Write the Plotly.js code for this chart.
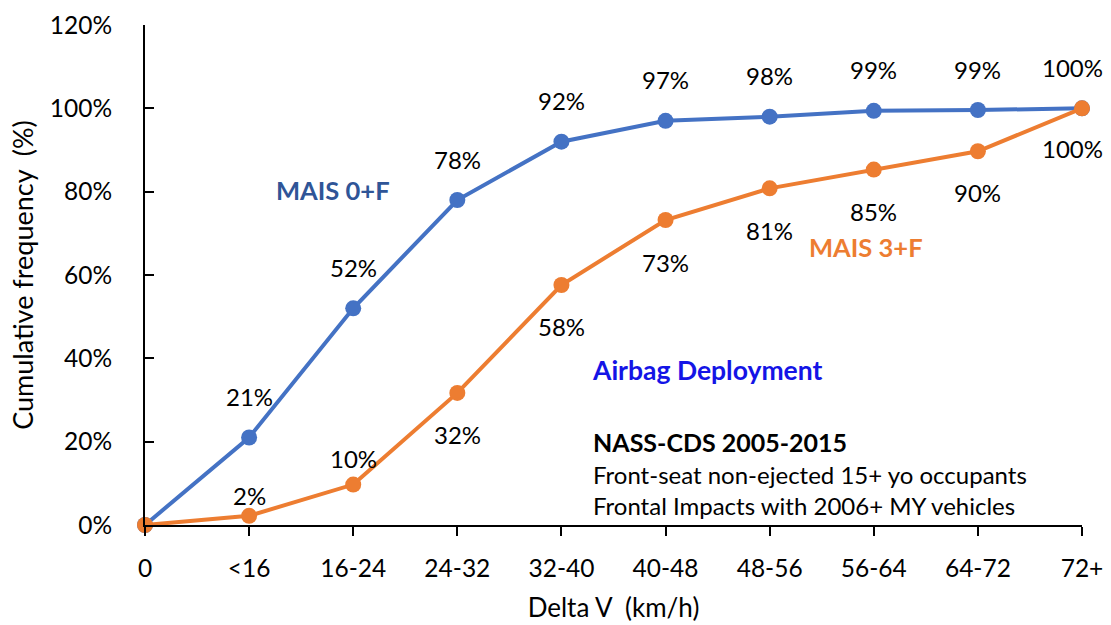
<!DOCTYPE html>
<html><head><meta charset="utf-8">
<script src="https://cdn.plot.ly/plotly-3.0.1.min.js"></script>
<style>body{margin:0;background:#fff}#chart{width:1111px;height:625px}</style>
</head><body><div id="chart"></div>
<script>
const categories = ['0','<16','16-24','24-32','32-40','40-48','48-56','56-64','64-72','72+'];
const mais0F = [0, 21, 52, 78, 92, 97, 98, 99.4, 99.6, 100];
const mais3F = [0, 2.2, 9.7, 31.7, 57.6, 73.2, 80.8, 85.3, 89.7, 100];
const mais0FLabels = ['', '21%', '52%', '78%', '92%', '97%', '98%', '99%', '99%', '100%'];
const mais3FLabels = ['', '2%', '10%', '32%', '58%', '73%', '81%', '85%', '90%', '100%'];
const mais3FLabelShift = [0, 20, 26, -42, -41, -42, -42, -42, -41, -40];

const FONT = 'Lato, "Open Sans", sans-serif';
const BLUE = '#4472C4', ORANGE = '#ED7D31';

const traces = [
  {x: categories, y: mais0F, type: 'scatter', mode: 'lines+markers', name: 'MAIS 0+F',
   line: {color: BLUE, width: 4}, marker: {color: BLUE, size: 16}, cliponaxis: false},
  {x: categories, y: mais3F, type: 'scatter', mode: 'lines+markers', name: 'MAIS 3+F',
   line: {color: ORANGE, width: 4}, marker: {color: ORANGE, size: 16}, cliponaxis: false}
];

const annotations = [];
const last = categories.length - 1;
categories.forEach((c, i) => {
  const xs = (i === last) ? -10 : 0;
  if (mais0FLabels[i]) annotations.push({x: i, y: mais0F[i], xref: 'x', yref: 'y', text: mais0FLabels[i],
    showarrow: false, yshift: 41, xshift: xs, font: {family: FONT, size: 24, color: '#000'}});
  if (mais3FLabels[i]) annotations.push({x: i, y: mais3F[i], xref: 'x', yref: 'y', text: mais3FLabels[i],
    showarrow: false, yshift: mais3FLabelShift[i], xshift: xs, font: {family: FONT, size: 24, color: '#000'}});
});
annotations.push(
  {x: 1.806, y: 80.4, xref: 'x', yref: 'y', text: '<b>MAIS 0+F</b>', showarrow: false,
   font: {family: FONT, size: 25.5, color: '#2F5597'}},
  {x: 6.93, y: 66.7, xref: 'x', yref: 'y', text: '<b>MAIS 3+F</b>', showarrow: false,
   font: {family: FONT, size: 25.5, color: ORANGE}},
  {x: 5.40, y: 37.2, xref: 'x', yref: 'y', text: '<b>Airbag Deployment</b>', showarrow: false,
   font: {family: FONT, size: 26.5, color: '#1414E6'}},
  {x: 4.28, y: 19.9, xref: 'x', yref: 'y', xanchor: 'left', text: '<b>NASS-CDS 2005-2015</b>', showarrow: false,
   font: {family: FONT, size: 25, color: '#000'}},
  {x: 4.28, y: 12.2, xref: 'x', yref: 'y', xanchor: 'left', text: 'Front-seat non-ejected 15+ yo occupants', showarrow: false,
   font: {family: FONT, size: 24, color: '#000'}},
  {x: 4.28, y: 4.8, xref: 'x', yref: 'y', xanchor: 'left', text: 'Frontal Impacts with 2006+ MY vehicles', showarrow: false,
   font: {family: FONT, size: 24, color: '#000'}}
);

const layout = {
  width: 1111, height: 625,
  margin: {l: 145, r: 29, t: 25, b: 100},
  paper_bgcolor: '#fff', plot_bgcolor: '#fff',
  showlegend: false,
  font: {family: FONT, color: '#000'},
  xaxis: {type: 'category', range: [0, 9], showgrid: false, zeroline: false,
    showline: true, linecolor: '#000', linewidth: 2,
    ticks: 'outside', ticklen: 9, tickwidth: 2, tickcolor: '#000',
    tickfont: {family: FONT, size: 24.5, color: '#000'}, ticklabelstandoff: 12,
    title: {text: 'Delta V&nbsp;&nbsp;(km/h)', font: {family: FONT, size: 26, color: '#000'}, standoff: 17}},
  yaxis: {range: [0, 120], dtick: 20, ticksuffix: '%', showgrid: false, zeroline: false,
    showline: true, linecolor: '#000', linewidth: 2,
    ticks: 'inside', ticklen: 9, tickwidth: 2, tickcolor: '#000',
    tickfont: {family: FONT, size: 24.5, color: '#000'}, ticklabelstandoff: 26,
    title: {text: 'Cumulative frequency&nbsp;&nbsp;(%)', font: {family: FONT, size: 27, color: '#000'}, standoff: 8}},
  annotations: annotations
};

Plotly.newPlot('chart', traces, layout, {displayModeBar: false, staticPlot: true});
</script></body></html>
